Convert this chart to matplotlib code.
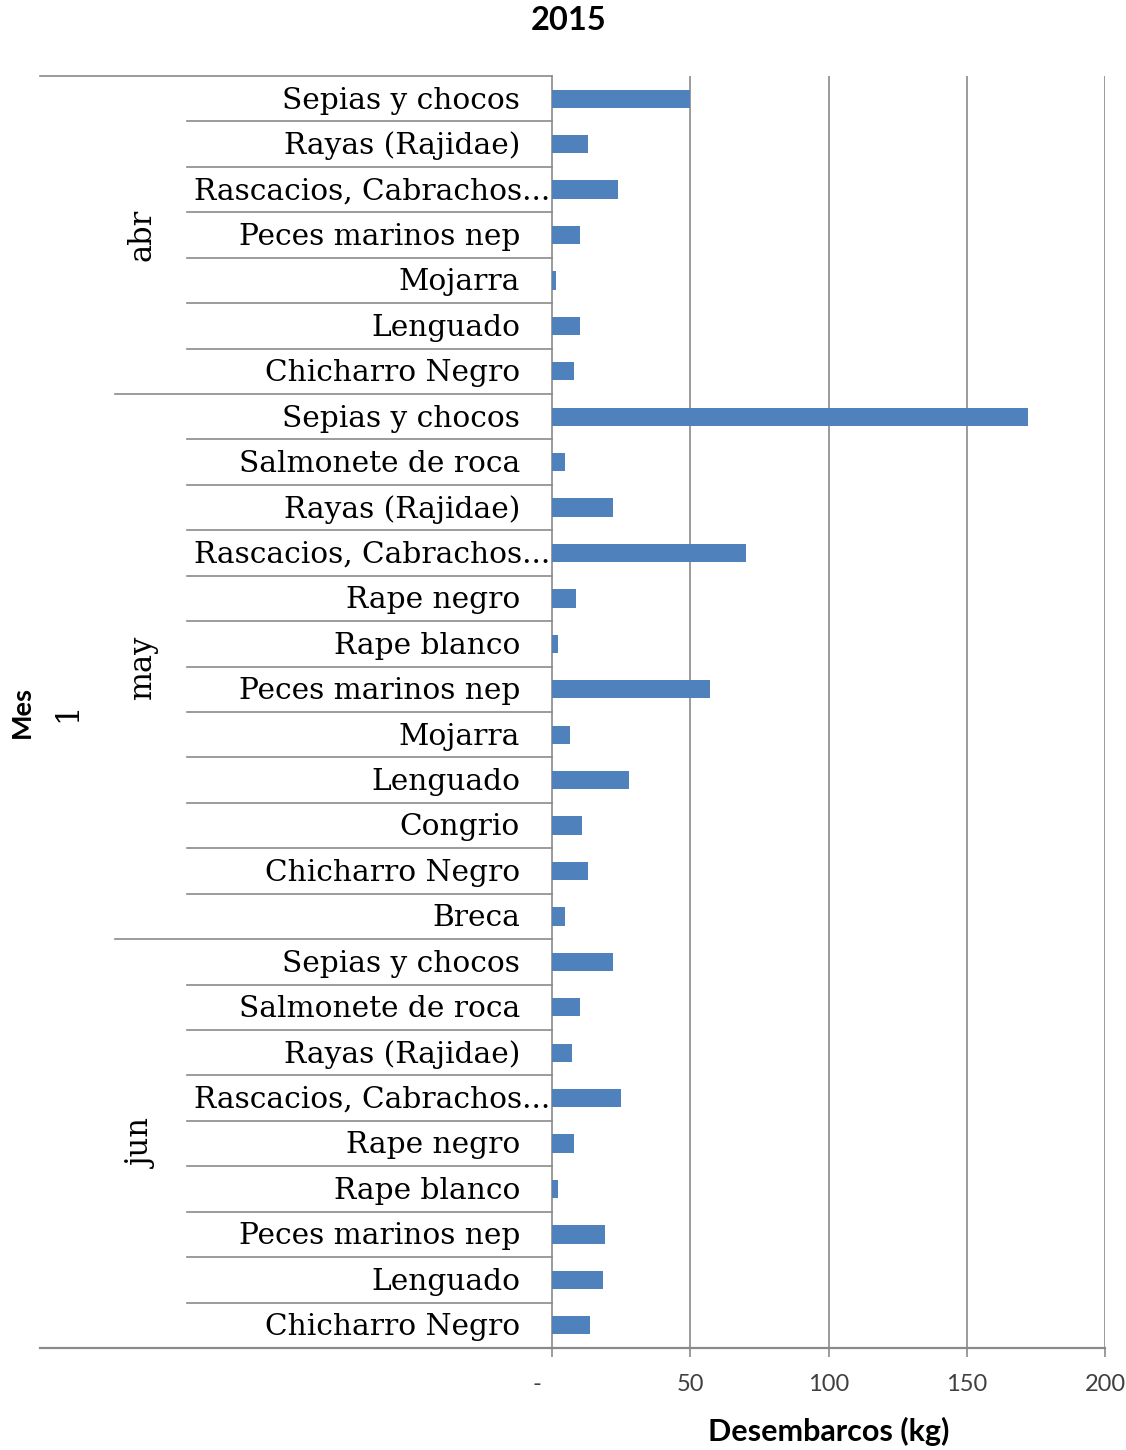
"""
Desembarcos (kg) por mes y especie, 2015.
"""

import numpy as np
import matplotlib.pyplot as plt
from matplotlib.transforms import blended_transform_factory

# Datos por mes (de arriba hacia abajo)
meses = ["abr", "may", "jun"]

especies_abr = ["Sepias y chocos", "Rayas (Rajidae)", "Rascacios, Cabrachos...",
                "Peces marinos nep", "Mojarra", "Lenguado", "Chicharro Negro"]
valores_abr = [50, 13, 24, 10, 1.5, 10, 8]

especies_may = ["Sepias y chocos", "Salmonete de roca", "Rayas (Rajidae)",
                "Rascacios, Cabrachos...", "Rape negro", "Rape blanco",
                "Peces marinos nep", "Mojarra", "Lenguado", "Congrio",
                "Chicharro Negro", "Breca"]
valores_may = [172, 4.7, 22, 70, 8.5, 2.2, 57, 6.5, 28, 10.8, 13.2, 4.7]

especies_jun = ["Sepias y chocos", "Salmonete de roca", "Rayas (Rajidae)",
                "Rascacios, Cabrachos...", "Rape negro", "Rape blanco",
                "Peces marinos nep", "Lenguado", "Chicharro Negro"]
valores_jun = [22, 10, 7.2, 25, 8, 2.2, 19, 18.4, 13.8]

xticks = [0, 50, 100, 150, 200]
xticklabels = ["-     ", "50", "100", "150", "200"]

grupos = [especies_abr, especies_may, especies_jun]
valores = [valores_abr, valores_may, valores_jun]

etiquetas = [e for g in grupos for e in g]
datos = [v for g in valores for v in g]
n = len(etiquetas)
y = np.arange(n)

AZUL = "#4F81BD"
GRIS = "#8A8A8A"
SERIF = ["DejaVu Serif"]
SANS = ["Lato", "DejaVu Sans"]

fig = plt.figure(figsize=(11.26, 14.5), dpi=100)
ax = fig.add_axes([552 / 1126, 1 - 1348 / 1450, 553 / 1126, 1272 / 1450])

ax.barh(y, datos, height=0.4, color=AZUL, zorder=3)
ax.set_ylim(n - 0.5, -0.5)
ax.set_xlim(0, 200)

# Rejilla vertical
for xv in xticks[1:]:
    ax.axvline(xv, color=GRIS, lw=1.2, zorder=1)

for s in ["top", "right", "bottom"]:
    ax.spines[s].set_visible(False)
ax.spines["left"].set_color(GRIS)
ax.spines["left"].set_linewidth(1.2)

ax.set_yticks([])
ax.set_xticks(xticks)
ax.set_xticklabels(xticklabels, fontfamily=SANS, fontsize=17, color="#404040")
ax.tick_params(axis="x", length=6.5, width=1.2, color=GRIS, pad=12)

# Lineas del eje de categorias
tr = blended_transform_factory(ax.transAxes, ax.transData)
x_cat = -0.660
x_mes = -0.790
x_ext = -0.926

limites = np.cumsum([len(g) for g in grupos])
for i in range(1, n):
    x0 = x_mes if i in limites else x_cat
    ax.plot([x0, 0], [i - 0.5, i - 0.5], transform=tr, color=GRIS,
            lw=1.2, clip_on=False)
ax.plot([x_ext, 0], [-0.5, -0.5], transform=tr, color=GRIS, lw=1.2, clip_on=False)
ax.plot([x_ext, 1], [n - 0.5, n - 0.5], transform=tr, color=GRIS, lw=1.6,
        clip_on=False)

# Etiquetas de especie
for yi, lab in zip(y, etiquetas):
    xoff = -0.003 if lab.endswith("...") else -0.058
    ax.text(xoff, yi + 0.04, lab, transform=tr, ha="right", va="center",
            fontfamily=SERIF, fontsize=21.3)

# Etiquetas de mes
inicio = 0
for mes, g in zip(meses, grupos):
    centro = inicio + (len(g) - 1) / 2
    ax.text(-0.741, centro, mes, transform=tr, rotation=90, ha="center",
            va="center", fontfamily=SERIF, fontsize=22)
    inicio += len(g)

ax.text(-0.875, (n - 1) / 2, "1", transform=tr, rotation=90, ha="center",
        va="center", fontfamily=SERIF, fontsize=22)
fig.text(22 / 1126, 1 - 712 / 1450, "Mes", rotation=90, ha="center", va="center",
         fontfamily=SANS, fontweight="bold", fontsize=19.5)

fig.text(569 / 1126, 1 - 21 / 1450, "2015", ha="center", va="center",
         fontfamily=SANS, fontweight="bold", fontsize=23.5)
fig.text(829 / 1126, 1 - 1431 / 1450, "Desembarcos (kg)", ha="center",
         va="center", fontfamily=SANS, fontweight="bold", fontsize=22)

fig.savefig("out.png", dpi=100)
